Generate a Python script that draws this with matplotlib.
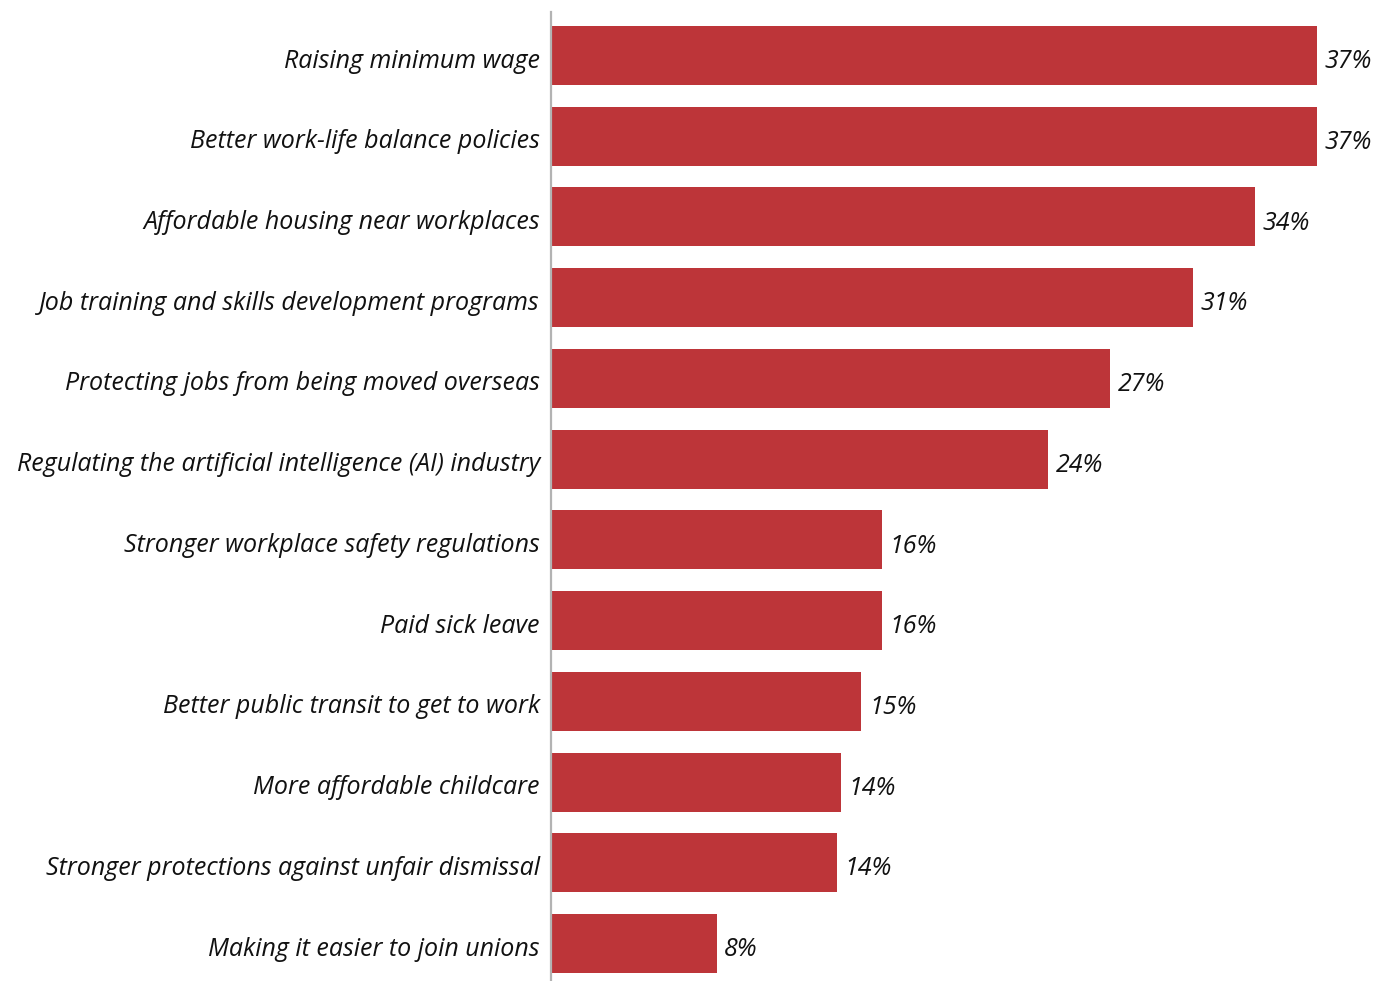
import matplotlib
matplotlib.use("Agg")
import matplotlib.pyplot as plt

categories = [
    "Raising minimum wage",
    "Better work-life balance policies",
    "Affordable housing near workplaces",
    "Job training and skills development programs",
    "Protecting jobs from being moved overseas",
    "Regulating the artificial intelligence (AI) industry",
    "Stronger workplace safety regulations",
    "Paid sick leave",
    "Better public transit to get to work",
    "More affordable childcare",
    "Stronger protections against unfair dismissal",
    "Making it easier to join unions",
]
values = [37, 37, 34, 31, 27, 24, 16, 16, 15, 14, 13.8, 8]
value_labels = ["37%", "37%", "34%", "31%", "27%", "24%", "16%", "16%", "15%", "14%", "14%", "8%"]

FONT = ["Open Sans", "DejaVu Sans"]
BAR_COLOR = "#BD3539"
FS = 18

fig = plt.figure(figsize=(13.88, 9.81), dpi=100)
ax = fig.add_axes([551 / 1388, 0, (1380 - 551) / 1388, 1 - 12 / 981])

pos = list(range(len(categories)))
ax.barh(pos, values, height=0.731, color=BAR_COLOR, zorder=2)
ax.set_ylim(11.465, -0.539)
ax.set_xlim(0, 40.05)

for p, v, lab in zip(pos, values, value_labels):
    ax.annotate(lab, (v, p), xytext=(5.5, -4.5), textcoords="offset points",
                ha="left", va="center", fontsize=FS, style="italic",
                family=FONT, color="#111111")

for p, cat in zip(pos, categories):
    ax.annotate(cat, (0, p), xytext=(-8, -4.0), textcoords="offset points",
                ha="right", va="center", fontsize=FS, style="italic",
                family=FONT, color="#111111", annotation_clip=False)

ax.set_yticks([])
ax.set_xticks([])
for s in ["top", "right", "bottom"]:
    ax.spines[s].set_visible(False)
ax.spines["left"].set_color("#b3b3b3")
ax.spines["left"].set_linewidth(1.6)

fig.savefig("out.png", dpi=100, facecolor="white")
